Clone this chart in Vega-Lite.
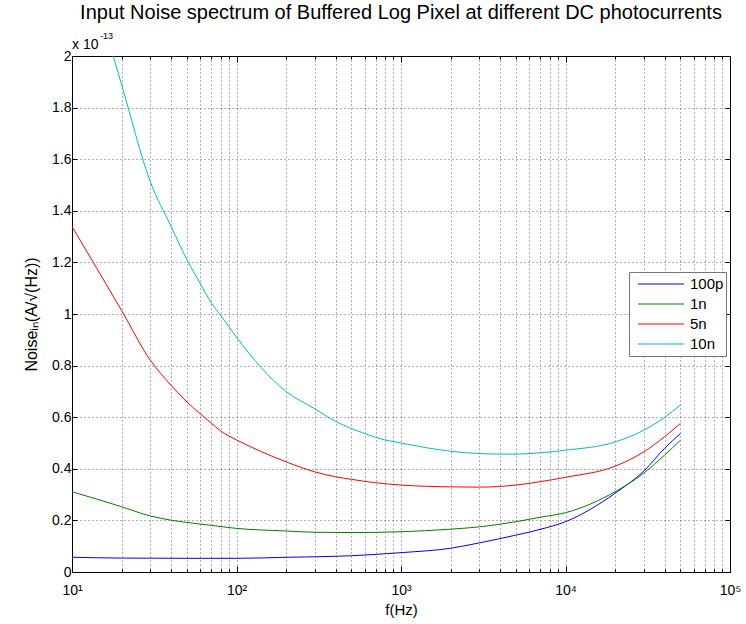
{
  "$schema": "https://vega.github.io/schema/vega-lite/v6.json",
  "width": 658,
  "height": 516,
  "autosize": "none",
  "padding": {"left": 72, "top": 56, "right": 16, "bottom": 52},
  "background": "white",
  "title": {
    "text": "Input Noise spectrum of Buffered Log Pixel at different DC photocurrents",
    "font": "Liberation Sans",
    "fontSize": 20,
    "fontWeight": "normal",
    "color": "#000",
    "anchor": "middle",
    "frame": "group",
    "baseline": "alphabetic",
    "offset": -7
  },
  "config": {
    "view": {"stroke": "#000", "strokeWidth": 1},
    "axis": {
      "labelFont": "Liberation Sans",
      "titleFont": "Liberation Sans",
      "labelColor": "#000",
      "titleColor": "#000",
      "titleFontWeight": "normal",
      "labelFontSize": 14,
      "titleFontSize": 16,
      "domain": false,
      "tickColor": "#000",
      "tickSize": -5,
      "grid": true,
      "gridColor": "#000",
      "gridDash": [1, 3],
      "gridOpacity": 0.6,
      "gridWidth": 1
    }
  },
  "resolve": {"axis": {"x": "independent", "y": "independent"}},
  "data": {
    "values": [
      {"f": 10, "v": 0.057, "s": "100p"},
      {"f": 20, "v": 0.054, "s": "100p"},
      {"f": 50, "v": 0.053, "s": "100p"},
      {"f": 100, "v": 0.053, "s": "100p"},
      {"f": 200, "v": 0.057, "s": "100p"},
      {"f": 300, "v": 0.059, "s": "100p"},
      {"f": 500, "v": 0.063, "s": "100p"},
      {"f": 1000, "v": 0.075, "s": "100p"},
      {"f": 2000, "v": 0.092, "s": "100p"},
      {"f": 3000, "v": 0.113, "s": "100p"},
      {"f": 5000, "v": 0.143, "s": "100p"},
      {"f": 7000, "v": 0.165, "s": "100p"},
      {"f": 10000, "v": 0.195, "s": "100p"},
      {"f": 20000, "v": 0.305, "s": "100p"},
      {"f": 30000, "v": 0.392, "s": "100p"},
      {"f": 40000, "v": 0.479, "s": "100p"},
      {"f": 50000, "v": 0.537, "s": "100p"},

      {"f": 10, "v": 0.311, "s": "1n"},
      {"f": 20, "v": 0.253, "s": "1n"},
      {"f": 30, "v": 0.217, "s": "1n"},
      {"f": 40, "v": 0.201, "s": "1n"},
      {"f": 50, "v": 0.192, "s": "1n"},
      {"f": 70, "v": 0.181, "s": "1n"},
      {"f": 100, "v": 0.169, "s": "1n"},
      {"f": 200, "v": 0.159, "s": "1n"},
      {"f": 300, "v": 0.154, "s": "1n"},
      {"f": 500, "v": 0.153, "s": "1n"},
      {"f": 1000, "v": 0.156, "s": "1n"},
      {"f": 2000, "v": 0.166, "s": "1n"},
      {"f": 3000, "v": 0.175, "s": "1n"},
      {"f": 5000, "v": 0.195, "s": "1n"},
      {"f": 7000, "v": 0.212, "s": "1n"},
      {"f": 10000, "v": 0.23, "s": "1n"},
      {"f": 20000, "v": 0.311, "s": "1n"},
      {"f": 30000, "v": 0.384, "s": "1n"},
      {"f": 40000, "v": 0.453, "s": "1n"},
      {"f": 50000, "v": 0.511, "s": "1n"},

      {"f": 10, "v": 1.339, "s": "5n"},
      {"f": 20, "v": 1.014, "s": "5n"},
      {"f": 30, "v": 0.82, "s": "5n"},
      {"f": 40, "v": 0.724, "s": "5n"},
      {"f": 50, "v": 0.659, "s": "5n"},
      {"f": 60, "v": 0.614, "s": "5n"},
      {"f": 70, "v": 0.578, "s": "5n"},
      {"f": 80, "v": 0.547, "s": "5n"},
      {"f": 90, "v": 0.527, "s": "5n"},
      {"f": 100, "v": 0.512, "s": "5n"},
      {"f": 200, "v": 0.427, "s": "5n"},
      {"f": 300, "v": 0.388, "s": "5n"},
      {"f": 400, "v": 0.369, "s": "5n"},
      {"f": 500, "v": 0.359, "s": "5n"},
      {"f": 700, "v": 0.346, "s": "5n"},
      {"f": 1000, "v": 0.337, "s": "5n"},
      {"f": 2000, "v": 0.33, "s": "5n"},
      {"f": 3000, "v": 0.329, "s": "5n"},
      {"f": 5000, "v": 0.337, "s": "5n"},
      {"f": 7000, "v": 0.35, "s": "5n"},
      {"f": 10000, "v": 0.367, "s": "5n"},
      {"f": 20000, "v": 0.41, "s": "5n"},
      {"f": 30000, "v": 0.466, "s": "5n"},
      {"f": 40000, "v": 0.524, "s": "5n"},
      {"f": 50000, "v": 0.576, "s": "5n"},

      {"f": 10, "v": 2.54, "s": "10n"},
      {"f": 20, "v": 1.89, "s": "10n"},
      {"f": 30, "v": 1.511, "s": "10n"},
      {"f": 40, "v": 1.34, "s": "10n"},
      {"f": 50, "v": 1.21, "s": "10n"},
      {"f": 60, "v": 1.12, "s": "10n"},
      {"f": 70, "v": 1.045, "s": "10n"},
      {"f": 80, "v": 0.995, "s": "10n"},
      {"f": 90, "v": 0.95, "s": "10n"},
      {"f": 100, "v": 0.91, "s": "10n"},
      {"f": 200, "v": 0.7, "s": "10n"},
      {"f": 300, "v": 0.632, "s": "10n"},
      {"f": 400, "v": 0.584, "s": "10n"},
      {"f": 500, "v": 0.556, "s": "10n"},
      {"f": 600, "v": 0.537, "s": "10n"},
      {"f": 700, "v": 0.522, "s": "10n"},
      {"f": 800, "v": 0.512, "s": "10n"},
      {"f": 1000, "v": 0.5, "s": "10n"},
      {"f": 2000, "v": 0.468, "s": "10n"},
      {"f": 3000, "v": 0.459, "s": "10n"},
      {"f": 4000, "v": 0.457, "s": "10n"},
      {"f": 5000, "v": 0.457, "s": "10n"},
      {"f": 7000, "v": 0.462, "s": "10n"},
      {"f": 10000, "v": 0.472, "s": "10n"},
      {"f": 20000, "v": 0.504, "s": "10n"},
      {"f": 30000, "v": 0.55, "s": "10n"},
      {"f": 40000, "v": 0.599, "s": "10n"},
      {"f": 50000, "v": 0.647, "s": "10n"}
    ]
  },
  "layer": [
    {
      "mark": {"type": "line", "clip": true, "strokeWidth": 1, "interpolate": "monotone"},
      "encoding": {
        "x": {
          "field": "f",
          "type": "quantitative",
          "scale": {"type": "log", "domain": [10, 100000], "nice": false},
          "axis": {
            "orient": "bottom",
            "title": "f(Hz)",
            "titlePadding": 2,
            "titleFontSize": 15,
            "values": [10, 20, 30, 40, 50, 60, 70, 80, 90, 100, 200, 300, 400, 500, 600, 700, 800, 900, 1000, 2000, 3000, 4000, 5000, 6000, 7000, 8000, 9000, 10000, 20000, 30000, 40000, 50000, 60000, 70000, 80000, 90000, 100000],
            "labelExpr": "datum.value == 10 ? '10¹' : datum.value == 100 ? '10²' : datum.value == 1000 ? '10³' : datum.value == 10000 ? '10⁴' : datum.value == 100000 ? '10⁵' : ''",
            "tickSize": {"condition": {"test": "datum.value == 10 || datum.value == 100 || datum.value == 1000 || datum.value == 10000 || datum.value == 100000", "value": -6}, "value": -3},
            "labelOverlap": false,
            "labelFlush": false,
            "labelPadding": 17
          }
        },
        "y": {
          "field": "v",
          "type": "quantitative",
          "scale": {"domain": [0, 2], "nice": false, "zero": false},
          "axis": {
            "orient": "left",
            "title": "Noiseᵢₙ(A/√(Hz))",
            "titlePadding": 12,
            "values": [0, 0.2, 0.4, 0.6, 0.8, 1, 1.2, 1.4, 1.6, 1.8, 2],
            "labelExpr": "format(datum.value, '~g')",
            "labelPadding": 6
          }
        },
        "color": {
          "field": "s",
          "type": "nominal",
          "scale": {"domain": ["100p", "1n", "5n", "10n"], "range": ["#0000ff", "#008000", "#ff0000", "#00bfbf"]},
          "legend": {
            "title": null,
            "orient": "none",
            "legendX": 557,
            "legendY": 216,
            "fillColor": "#fff",
            "strokeColor": "#777",
            "padding": 2,
            "symbolType": "stroke",
            "symbolSize": 2116,
            "symbolStrokeWidth": 1.2,
            "symbolOffset": 6,
            "clipHeight": 20,
            "rowPadding": 0,
            "labelFont": "Liberation Sans",
            "labelFontSize": 15,
            "labelColor": "#000",
            "labelOffset": 5,
            "labelLimit": 60
          }
        }
      }
    },
    {
      "mark": {"type": "line", "opacity": 0, "clip": true},
      "encoding": {
        "x": {
          "field": "f",
          "type": "quantitative",
          "axis": {
            "orient": "top",
            "title": null,
            "grid": false,
            "labels": false,
            "values": [10, 20, 30, 40, 50, 60, 70, 80, 90, 100, 200, 300, 400, 500, 600, 700, 800, 900, 1000, 2000, 3000, 4000, 5000, 6000, 7000, 8000, 9000, 10000, 20000, 30000, 40000, 50000, 60000, 70000, 80000, 90000, 100000],
            "tickSize": {"condition": {"test": "datum.value == 10 || datum.value == 100 || datum.value == 1000 || datum.value == 10000 || datum.value == 100000", "value": -6}, "value": -3}
          }
        },
        "y": {
          "field": "v",
          "type": "quantitative",
          "axis": {
            "orient": "right",
            "title": null,
            "grid": false,
            "labels": false,
            "values": [0, 0.2, 0.4, 0.6, 0.8, 1, 1.2, 1.4, 1.6, 1.8, 2]
          }
        },
        "detail": {"field": "s"}
      }
    },
    {
      "data": {"values": [{"t": "x 10"}]},
      "mark": {"type": "text", "align": "left", "baseline": "alphabetic", "dy": -7, "font": "Liberation Sans", "fontSize": 14, "color": "#000"},
      "encoding": {"x": {"datum": 10, "type": "quantitative", "axis": null}, "y": {"datum": 2, "type": "quantitative", "axis": null}, "text": {"field": "t"}}
    },
    {
      "data": {"values": [{"t": "-13"}]},
      "mark": {"type": "text", "align": "left", "baseline": "alphabetic", "dx": 28, "dy": -17, "font": "Liberation Sans", "fontSize": 9, "color": "#000"},
      "encoding": {"x": {"datum": 10, "type": "quantitative", "axis": null}, "y": {"datum": 2, "type": "quantitative", "axis": null}, "text": {"field": "t"}}
    }
  ]
}
